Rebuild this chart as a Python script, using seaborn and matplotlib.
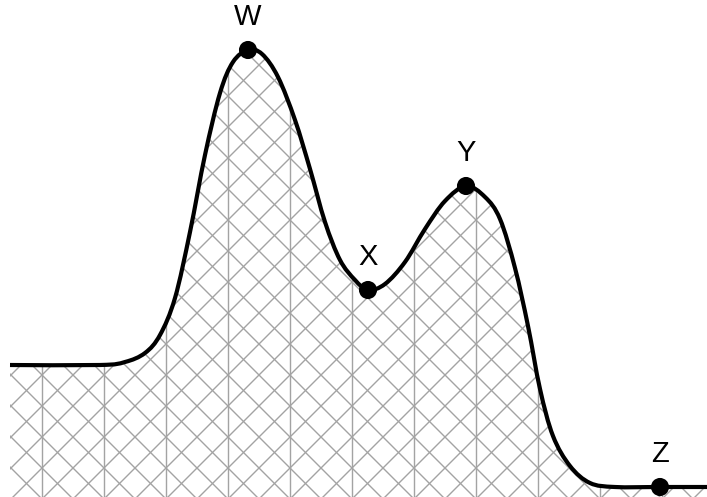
import numpy as np
import pandas as pd
import seaborn as sns
import matplotlib.pyplot as plt
from matplotlib.path import Path
from matplotlib.patches import PathPatch
from matplotlib.collections import LineCollection

# curve (x in px, height above the bottom edge in px)
curve_x = [10, 100, 125, 145, 160, 175, 190, 205, 220, 233, 248, 262, 278, 295, 310, 325, 340,
           355, 368, 385, 405, 425, 445, 466, 485, 500, 515, 528, 540, 553, 570, 590, 615,
           660, 707]
curve_h = [132, 132, 135, 144, 162, 199, 265, 342, 404, 435, 447, 443, 420, 377, 328, 275, 237,
           217, 207, 213, 235, 268, 296, 311, 300, 278, 229, 171, 108, 61, 31, 14, 10,
           10, 10]

# labelled points
labels = ['W', 'X', 'Y', 'Z']
label_x = [248, 368, 466, 660]
label_h = [447, 207, 311, 10]

pts = pd.DataFrame({'x': label_x, 'h': label_h, 'name': labels})

sns.set_style('white')
plt.rcParams['font.family'] = ['Liberation Sans', 'DejaVu Sans']

fig = plt.figure(figsize=(7.07, 4.97), dpi=100)
ax = fig.add_axes([0, 0, 1, 1])

# smooth path through the points (cardinal spline as bezier segments)
P = np.column_stack([curve_x, curve_h]).astype(float)
verts = [tuple(P[0])]
codes = [Path.MOVETO]
n = len(P)
for i in range(n - 1):
    p0 = P[max(i - 1, 0)]
    p1 = P[i]
    p2 = P[i + 1]
    p3 = P[min(i + 2, n - 1)]
    c1 = p1 + (p2 - p0) / 6
    c2 = p2 - (p3 - p1) / 6
    verts += [tuple(c1), tuple(c2), tuple(p2)]
    codes += [Path.CURVE4] * 3

line_path = Path(verts, codes)
fill_path = Path(verts + [(curve_x[-1], 0), (curve_x[0], 0), (curve_x[0], 0)],
                 codes + [Path.LINETO, Path.LINETO, Path.CLOSEPOLY])

fill = PathPatch(fill_path, facecolor='white', edgecolor='none', zorder=1)
ax.add_patch(fill)

# cross hatching + vertical rules, clipped to the area
segs = []
for c in range(-18 - 31 * 30, 800, 31):
    segs.append([(c - 10, -10), (c + 600, 600)])
for c in range(102 - 31 * 10, 1400, 31):
    segs.append([(c + 10, -10), (c - 600, 600)])
for vx in range(42, 707, 62):
    segs.append([(vx, -10), (vx, 600)])
hatch = LineCollection(segs, colors='#a3a3a3', linewidths=1.0, zorder=2)
ax.add_collection(hatch)
hatch.set_clip_path(fill)

ax.add_patch(PathPatch(line_path, facecolor='none', edgecolor='black', lw=3.0,
                       capstyle='butt', zorder=3))

sns.scatterplot(data=pts, x='x', y='h', color='black', s=170, edgecolor='none',
                zorder=4, ax=ax, legend=False)
for name, x, h in zip(labels, label_x, label_h):
    ax.text(x, h + 19, name, ha='center', va='bottom', fontsize=21, color='black')

ax.set_xlim(0, 707)
ax.set_ylim(0, 497)
ax.axis('off')
fig.savefig('out.png', dpi=100)
